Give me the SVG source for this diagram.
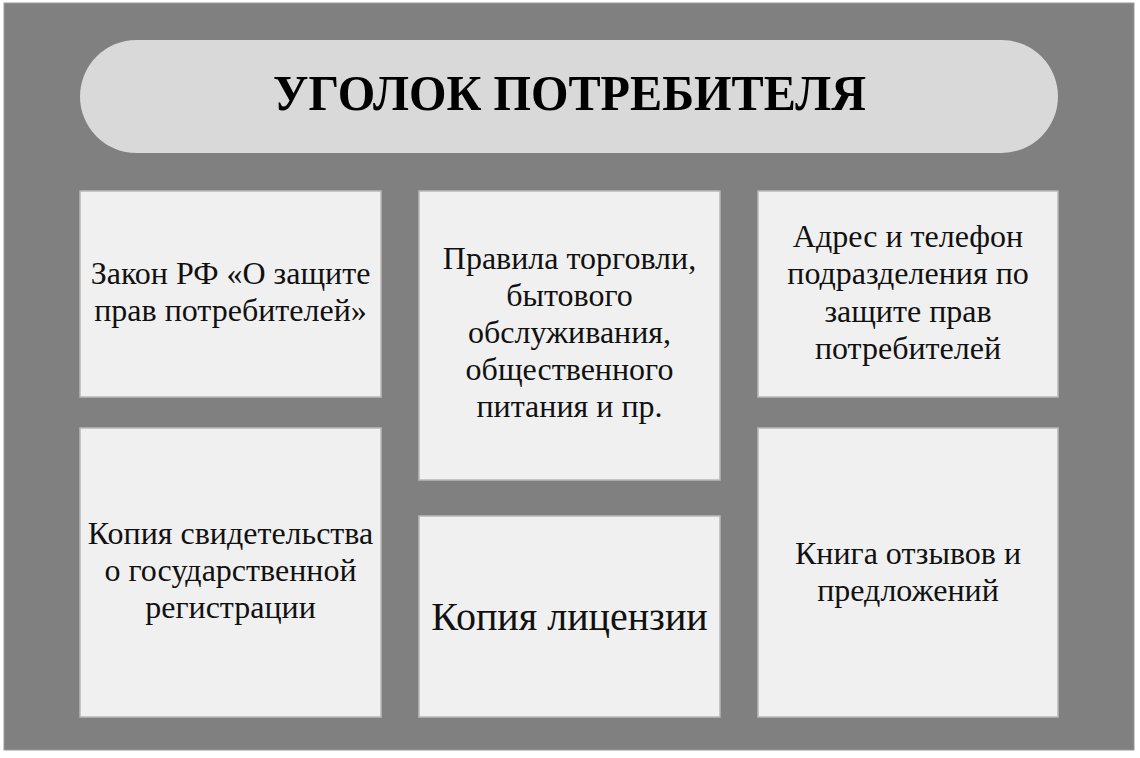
<svg xmlns="http://www.w3.org/2000/svg" width="1140" height="758" viewBox="0 0 1140 758">
<style>
.box{fill:#f0f0f0;stroke:#b8b8b8;stroke-width:1.5}
.t{font-family:"Liberation Serif","Times New Roman",serif;font-size:32px;fill:#111;text-anchor:middle}
.title{font-family:"Liberation Serif","Times New Roman",serif;font-size:51px;font-weight:bold;fill:#000;text-anchor:middle}
</style>
<rect x="0" y="0" width="1140" height="758" fill="#ffffff"/>
<rect x="4" y="3" width="1130" height="747" fill="#808080" stroke="#999" stroke-width="1"/>
<g id="title">
<rect x="80" y="40" width="978" height="113" rx="56.5" ry="56.5" fill="#d9d9d9"/>
<text class="title" x="569.5" y="110" textLength="593" lengthAdjust="spacingAndGlyphs">УГОЛОК ПОТРЕБИТЕЛЯ</text>
</g>
<g id="connectors"></g>
<g id="law">
<rect class="box" x="80" y="191" width="301" height="206"/>
<text class="t" x="230.5" y="284">Закон РФ «О защите</text>
<text class="t" x="230.5" y="321">прав потребителей»</text>
</g>
<g id="rules">
<rect class="box" x="419" y="191" width="301" height="289"/>
<text class="t" x="569.5" y="269">Правила торговли,</text>
<text class="t" x="569.5" y="306">бытового</text>
<text class="t" x="569.5" y="343">обслуживания,</text>
<text class="t" x="569.5" y="380">общественного</text>
<text class="t" x="569.5" y="417">питания и пр.</text>
</g>
<g id="address">
<rect class="box" x="758" y="191" width="300" height="206"/>
<text class="t" x="908" y="247">Адрес и телефон</text>
<text class="t" x="908" y="284">подразделения по</text>
<text class="t" x="908" y="322">защите прав</text>
<text class="t" x="908" y="359">потребителей</text>
</g>
<g id="certificate">
<rect class="box" x="80" y="428" width="301" height="289"/>
<text class="t" x="230.5" y="544">Копия свидетельства</text>
<text class="t" x="230.5" y="581">о государственной</text>
<text class="t" x="230.5" y="618">регистрации</text>
</g>
<g id="license">
<rect class="box" x="419" y="516" width="301" height="201"/>
<text class="t" x="569.5" y="630" style="font-size:40px">Копия лицензии</text>
</g>
<g id="book">
<rect class="box" x="758" y="428" width="300" height="289"/>
<text class="t" x="908" y="564">Книга отзывов и</text>
<text class="t" x="908" y="601">предложений</text>
</g>
</svg>
